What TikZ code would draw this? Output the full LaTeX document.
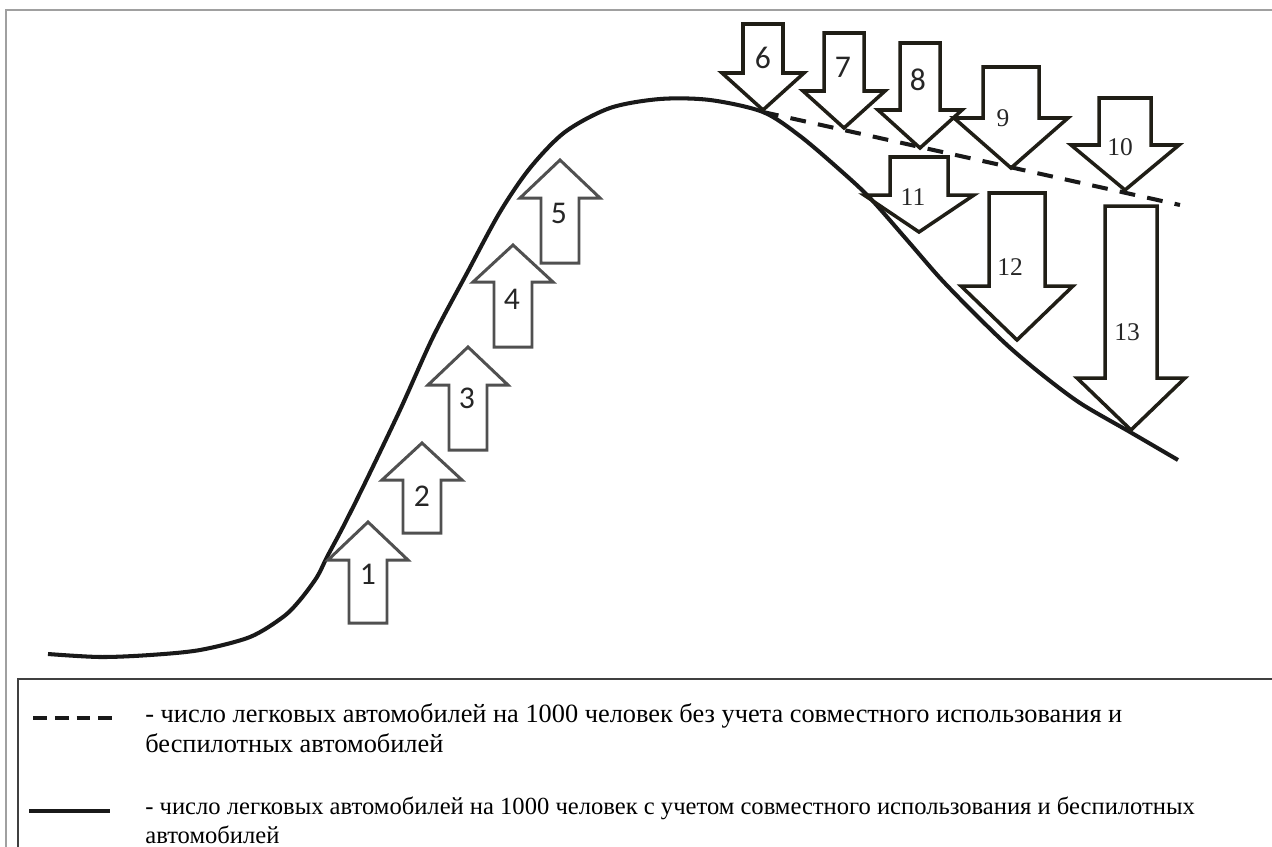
\documentclass[tikz,border=0pt]{standalone}
\usepackage{fontspec}
\setmainfont{Liberation Serif}
\newfontfamily\numsf{Carlito}
\usepackage{tikz}
\usetikzlibrary{positioning}
\definecolor{upgray}{RGB}{80,80,80}
\definecolor{dnblack}{RGB}{32,30,22}
\definecolor{framegray}{RGB}{160,160,160}

\begin{document}
\begin{tikzpicture}[
  x=0.02cm,y=-0.02cm,
  uparr/.style={draw=upgray,line width=1.7pt,line join=miter},
  dnarr/.style={draw=dnblack,line width=2pt,line join=miter},
  numsans/.style={font=\numsf\fontsize{18}{20}\selectfont,inner sep=0pt,text=black!85},
  numserif/.style={font=\fontsize{14.5}{16}\selectfont,inner sep=0pt,text=black!85},
  curve/.style={line width=2.3pt,black!90},
  dashcurve/.style={curve,dash pattern=on 9pt off 7pt},
  legtxt/.style={align=left,inner sep=0pt,anchor=base west}]

\useasboundingbox (0,0) rectangle (1272,846);
\clip (0,0) rectangle (1272,846);

% frames
\draw[framegray,line width=1.2pt] (6,870) |- (1290,10);
\draw[black!75,line width=0.9pt] (18,870) |- (1290,679);

% car ownership curves
\draw[curve] plot[smooth,tension=0.5] coordinates {
  (48,654) (100,657) (150,655) (200,650) (250,637) (283,617) (300,600)
  (317,577) (327,557) (343,527) (365,483) (400,410) (433,337) (467,273)
  (500,212) (530,168) (565,132) (610,108) (660,99) (710,100) (763,112)
  (800,136) (840,170) (870,198) (907,240) (940,278) (973,312) (1007,345)
  (1040,373) (1080,403) (1130,432) (1178,460)};
\draw[dashcurve] (763,112) -- (1180,205);

% growth factors (up)
\foreach \n/\cx/\yb/\yh/\yt in {1/368/623/560/522, 2/422/533/480/443,
    3/468/450/385/347, 4/513/347/282/245, 5/560/263/198/160}
  \draw[uparr] ({\cx-19},\yb) -- ({\cx+19},\yb) -- ({\cx+19},\yh) -- ({\cx+40},\yh)
    -- (\cx,\yt) -- ({\cx-40},\yh) -- ({\cx-19},\yh) -- cycle;

% reducing factors (down)
\foreach \n/\cx/\yt/\yh/\yp/\sw/\hw in {6/763/24/73/110/20/41, 7/844/33/91/128/20/41,
    8/920/43/110/148/20/42, 9/1011/67/118/168/28/57, 10/1125/98/145/190/26/54,
    11/919/157/195/232/29/55, 12/1017/193/286/340/28/56, 13/1131/206/378/430/26/54}
  \draw[dnarr] ({\cx-\sw},\yt) -- ({\cx+\sw},\yt) -- ({\cx+\sw},\yh) -- ({\cx+\hw},\yh)
    -- (\cx,\yp) -- ({\cx-\hw},\yh) -- ({\cx-\sw},\yh) -- cycle;

\foreach \n/\x/\y in {1/368/574, 2/422/496, 3/467/398, 4/512/299, 5/559/213,
    6/763/58, 7/843/67, 8/918/80}
  \node[numsans] (f\n) at (\x,\y) {\n};
\foreach \n/\x/\y in {9/1003/118, 10/1120/147, 11/913/197, 12/1010/267, 13/1127/332}
  \node[numserif] (f\n) at (\x,\y) {\n};

% legend
\draw[dashcurve,dash pattern=on 7.9pt off 4.5pt] (33,718) -- (113,718);
\draw[curve] (29,811) -- (110,811);
\node[legtxt,font=\fontsize{15}{17}\selectfont] (legdash) at (145,752)
  {- число легковых автомобилей на 1000 человек без учета совместного использования и\\беспилотных автомобилей};
\node[legtxt,font=\fontsize{14}{16}\selectfont] (legsolid) at (145,843)
  {- число легковых автомобилей на 1000 человек с учетом совместного использования и беспилотных\\автомобилей};
\end{tikzpicture}
\end{document}
